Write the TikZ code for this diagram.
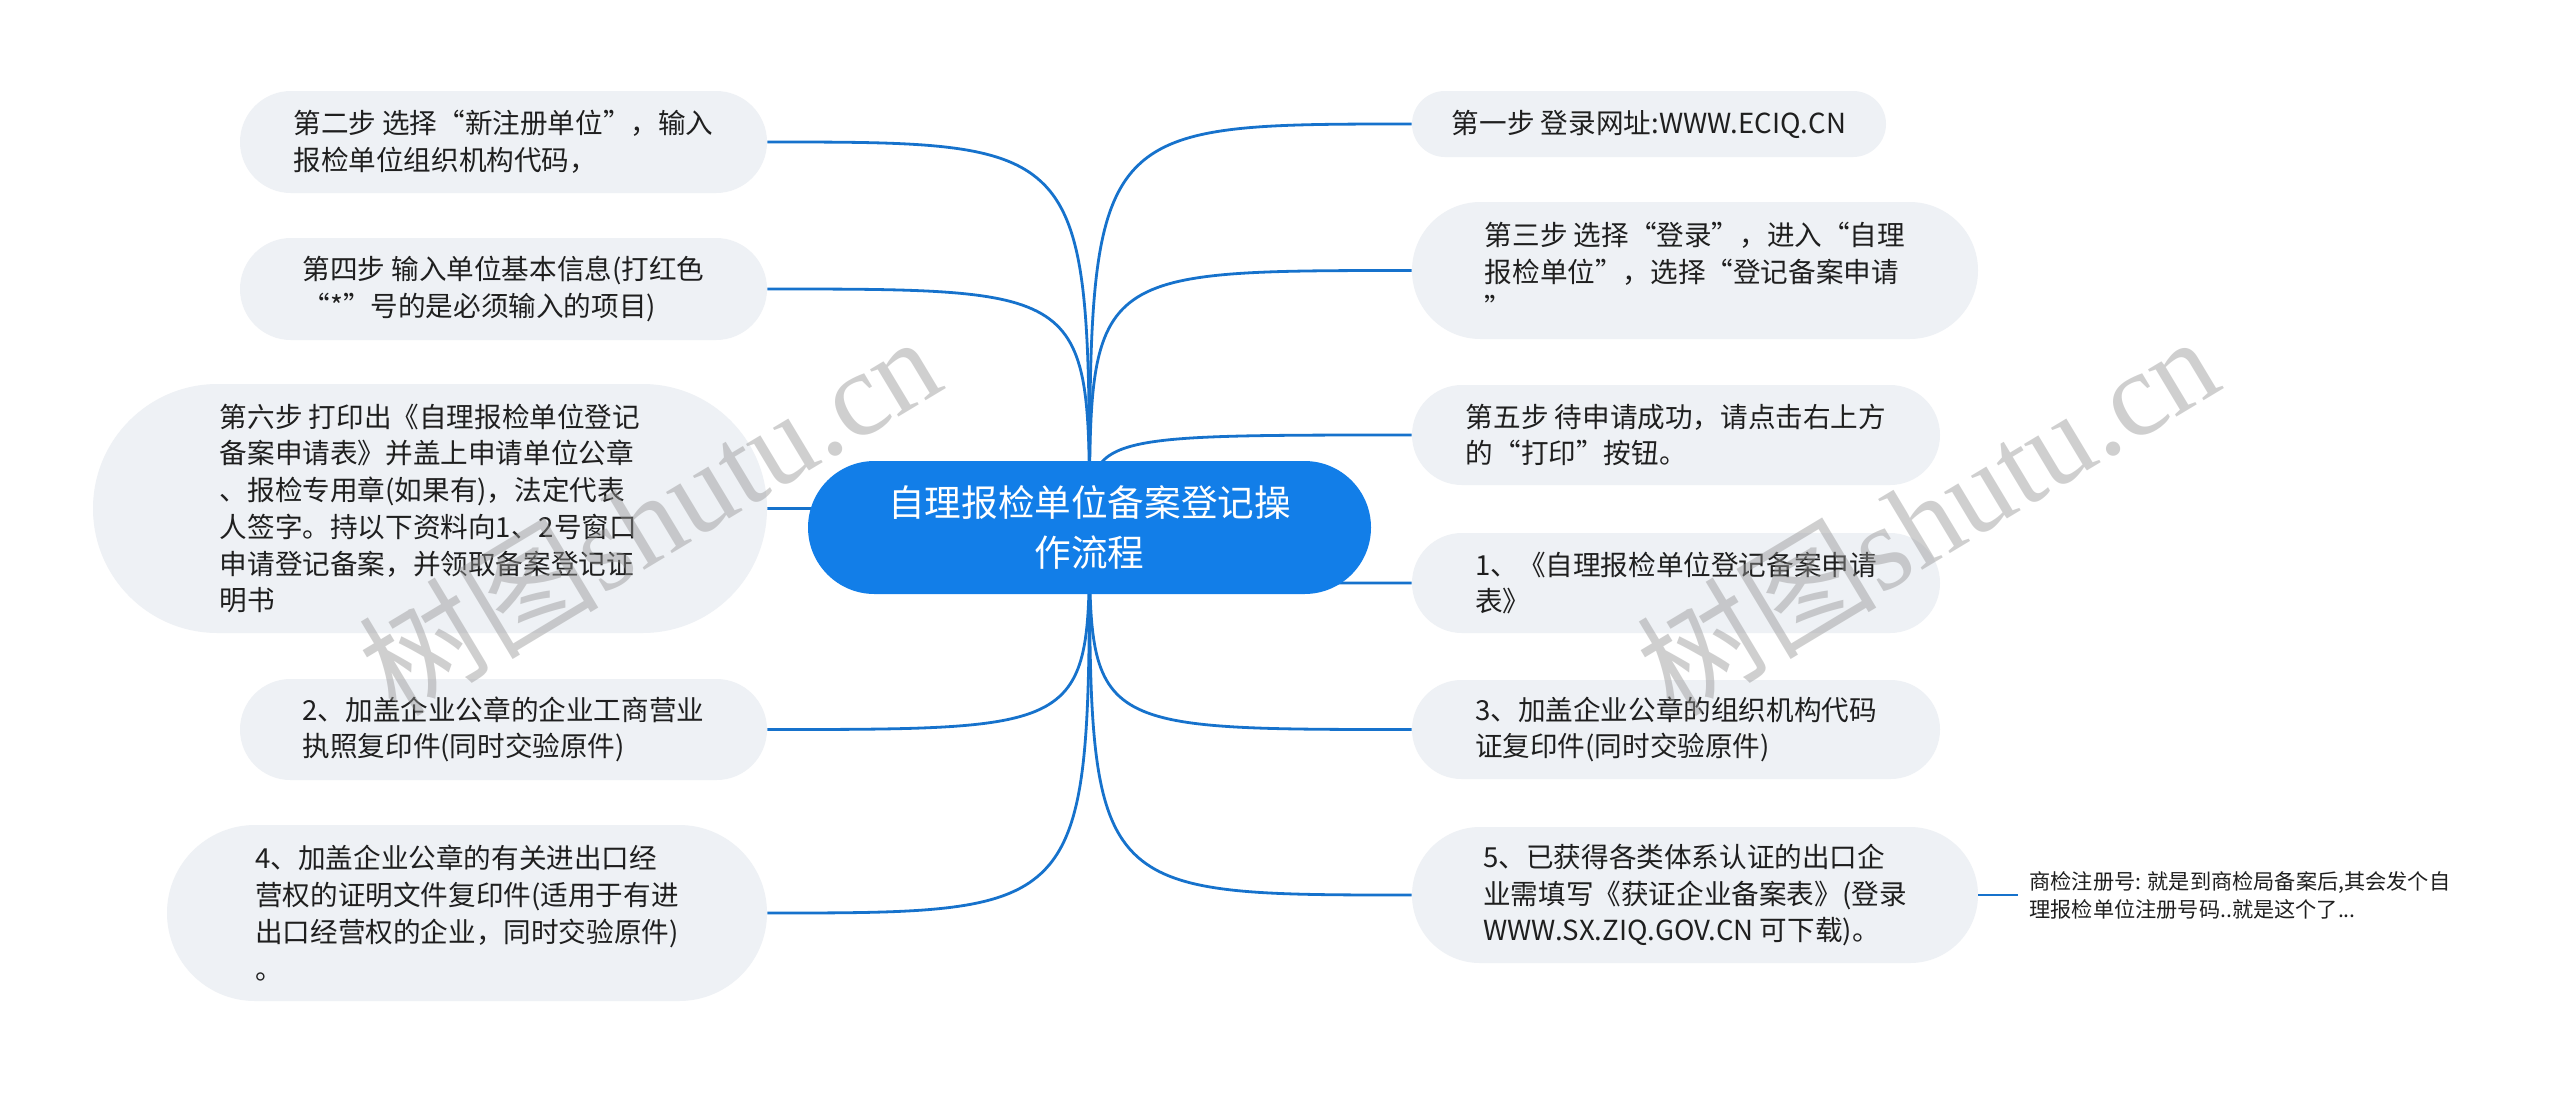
\documentclass[tikz,border=0pt]{standalone}
\usepackage{fontspec}
\setmainfont{Noto Sans CJK SC}
\newfontfamily\wmlatin{Liberation Serif}
\usetikzlibrary{backgrounds}
\definecolor{leaffill}{RGB}{238,241,245}
\definecolor{rootfill}{RGB}{18,126,232}
\definecolor{linkc}{RGB}{22,114,204}
\definecolor{wmc}{RGB}{150,150,150}
\newcommand\mmleaf[6]{%
  \pgfmathsetmacro\mmw{(#4-#2)*0.5}%
  \pgfmathsetmacro\mmh{(#5-#3)*0.5}%
  \pgfmathsetmacro\mmr{(#5-#3)*0.25}%
  \node[leaf, minimum width=\mmw pt, minimum height=\mmh pt, rounded corners=\mmr pt] (#1) at ({(#2+#4)/2},{(#3+#5)/2}) {#6};%
}
\tikzset{
  leaf/.style={fill=leaffill, align=left, inner sep=0pt, text=black!88,
    font=\fontsize{13.8pt}{18.4pt}\selectfont},
  rootnode/.style={fill=rootfill, align=center, inner sep=0pt, text=white,
    font=\fontsize{18.3pt}{25pt}\selectfont},
  link/.style={draw=linkc, line width=1.4pt},
  notetext/.style={align=left, inner ysep=1pt, inner xsep=5.5pt, text=black!88,
    font=\fontsize{10.6pt}{14pt}\selectfont},
  wm/.style={text=wmc, opacity=0.45, inner sep=0pt, font=\fontsize{60pt}{60pt}\selectfont}
}
\begin{document}
\begin{tikzpicture}[x=0.5pt,y=-0.5pt]
\useasboundingbox (0,0) rectangle (2560,1093);

% root
\node[rootnode, minimum width=281.5pt, minimum height=66.5pt, rounded corners=33.25pt] (root) at (1089.5,527.5)
  {自理报检单位备案登记操\\作流程};

% left leaves
\mmleaf{n2}{240}{91}{767}{193}{第二步 选择“新注册单位”，输入\\报检单位组织机构代码，}
\mmleaf{n4}{240}{238}{767}{340}{第四步 输入单位基本信息(打红色\\“*”号的是必须输入的项目)}
\mmleaf{n6}{93}{384}{767}{633}{第六步 打印出《自理报检单位登记\\备案申请表》并盖上申请单位公章\\、报检专用章(如果有)，法定代表\\人签字。持以下资料向1、2号窗口\\申请登记备案，并领取备案登记证\\明书}
\mmleaf{a2}{240}{679}{767}{780}{2、加盖企业公章的企业工商营业\\执照复印件(同时交验原件)}
\mmleaf{a4}{167}{825}{767}{1001}{4、加盖企业公章的有关进出口经\\营权的证明文件复印件(适用于有进\\出口经营权的企业，同时交验原件)\\。}

% right leaves
\mmleaf{n1}{1412}{91}{1886}{157}{第一步 登录网址:WWW.ECIQ.CN}
\mmleaf{n3}{1412}{202}{1978}{339}{第三步 选择“登录”，进入“自理\\报检单位”，选择“登记备案申请\\”}
\mmleaf{n5}{1412}{385}{1940}{485}{第五步 待申请成功，请点击右上方\\的“打印”按钮。}
\mmleaf{b1}{1412}{533}{1940}{633}{1、《自理报检单位登记备案申请\\表》}
\mmleaf{b3}{1412}{680}{1940}{779}{3、加盖企业公章的组织机构代码\\证复印件(同时交验原件)}
\mmleaf{b5}{1412}{827}{1978}{963}{5、已获得各类体系认证的出口企\\业需填写《获证企业备案表》(登录\\WWW.SX.ZIQ.GOV.CN 可下载)。}

\node[notetext, anchor=west] (note) at (2018,895) {商检注册号: 就是到商检局备案后,其会发个自\\理报检单位注册号码..就是这个了...};

\begin{pgfonlayer}{background}
\fill[white] (0,0) rectangle (2560,1093);
\foreach \t in {n2,n4,n6,a2,a4}
  \draw[link] (root.center) .. controls (root.center |- \t.east) .. (\t.east);
\foreach \t in {n1,n3,n5,b1,b3,b5}
  \draw[link] (root.center) .. controls (root.center |- \t.west) .. (\t.west);
\end{pgfonlayer}
\draw[link] (b5.east) -- (note.west);

% watermarks
\node[wm, rotate=31] (wm1) at (649,514) {树图{\wmlatin shutu.cn}};
\node[wm, rotate=31] (wm2) at (1927,514) {树图{\wmlatin shutu.cn}};
\end{tikzpicture}
\end{document}
